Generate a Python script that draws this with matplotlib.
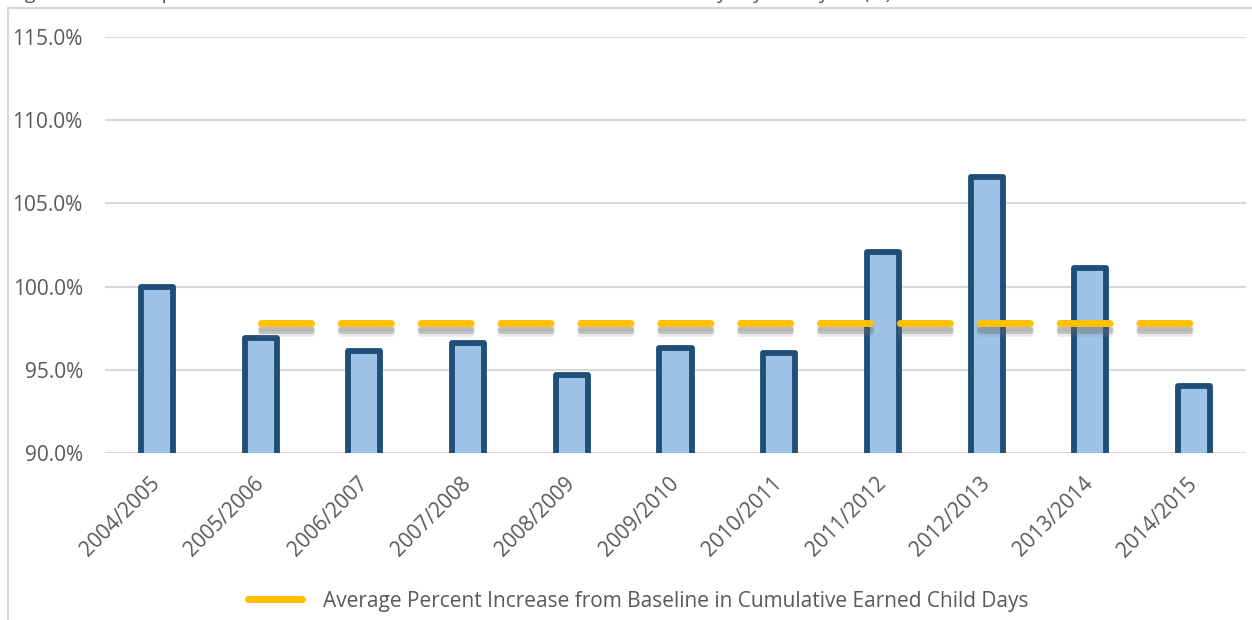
import matplotlib
matplotlib.use("Agg")
import matplotlib.pyplot as plt
import matplotlib.patheffects as pe
from matplotlib.lines import Line2D
from matplotlib.patches import Rectangle
import numpy as np

years = ["2004/2005", "2005/2006", "2006/2007", "2007/2008", "2008/2009", "2009/2010",
         "2010/2011", "2011/2012", "2012/2013", "2013/2014", "2014/2015"]
pct = [100.0, 96.9, 96.1, 96.6, 94.7, 96.3, 96.0, 102.1, 106.6, 101.1, 94.0]
avg_pct = 97.8
avg_label = "Average Percent Increase from Baseline in Cumulative Earned Child Days"
title = "Figure 9: Annual percent increase from baseline in cumulative earned child days by fiscal year (%)"
yticks = [90, 95, 100, 105, 110, 115]

plt.rcParams["font.family"] = ["Open Sans", "DejaVu Sans"]
plt.rcParams["lines.scale_dashes"] = False
grey = "#595959"

fig = plt.figure(figsize=(12.52, 6.2), dpi=100)
ax = fig.add_axes([105 / 1252, 1 - 453 / 620, 1141 / 1252, 416 / 620])

# outer chart frame (runs past the right and bottom edges)
fig.patches.append(Rectangle((8 / 1252, -0.2), 2, 1.2 - 8 / 620, transform=fig.transFigure,
                             fill=False, edgecolor="#D9D9D9", lw=1.5, zorder=0))
fig.text(10 / 1252, 1 + 1 / 620, title, fontsize=14, color="#44546A", va="baseline", ha="left")

x = np.arange(len(years))
ax.bar(x, pct, width=0.31, color="#9DC3E6", edgecolor="#1F4E79", linewidth=4.2,
       joinstyle="round", zorder=3)

xs = x[1:]
ln, = ax.plot(xs, [avg_pct] * len(xs), color="#FFC000", lw=5, solid_capstyle="round",
              dash_capstyle="round", linestyle=(0, (36, 21.5)), zorder=4)
ln.set_path_effects([pe.SimpleLineShadow(offset=(0, -3), shadow_color="#7F7F7F", alpha=0.2),
                     pe.SimpleLineShadow(offset=(0, -5), shadow_color="#595959", alpha=0.3),
                     pe.SimpleLineShadow(offset=(0, -7), shadow_color="#7F7F7F", alpha=0.15),
                     pe.Normal()])

ax.set_xlim(-0.5, len(years) - 0.5)
ax.set_ylim(90, 115)
ax.set_yticks(yticks)
ax.set_yticklabels([f"{v:.1f}%" for v in yticks], fontsize=15, color=grey)
ax.set_xticks(x)
ax.set_xticklabels(years, fontsize=15, color=grey, rotation=45, ha="right",
                   va="center", rotation_mode="anchor")
ax.tick_params(length=0)
ax.tick_params(axis="x", pad=20)
ax.tick_params(axis="y", pad=16)
ax.grid(axis="y", color="#D9D9D9", lw=1.5, zorder=0)
ax.set_axisbelow(True)
for s in ax.spines.values():
    s.set_visible(False)

handle = Line2D([], [], color="#FFC000", lw=5, solid_capstyle="round")
fig.legend([handle], [avg_label], loc="center", bbox_to_anchor=(638 / 1252, 1 - 601 / 620),
           frameon=False, fontsize=15, labelcolor=grey, handlelength=2.6, handletextpad=1.0)

fig.savefig("out.png", dpi=100)
